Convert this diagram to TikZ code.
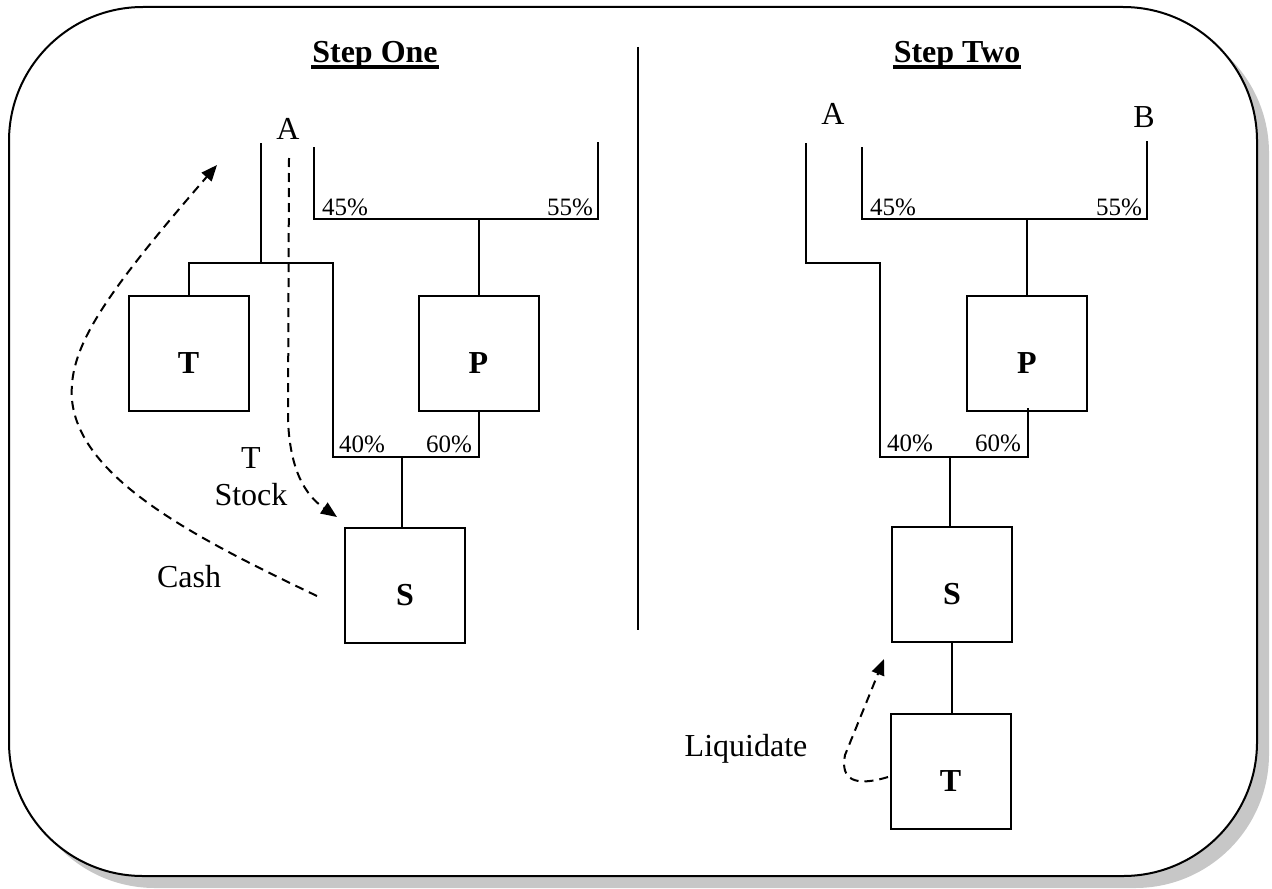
\documentclass[tikz,border=0pt]{standalone}
\usepackage{fontspec}
\setmainfont{Liberation Serif}
\usetikzlibrary{arrows.meta,calc}
\begin{document}
\begin{tikzpicture}[x=0.5pt,y=-0.5pt,line width=1pt,line join=miter,
  box/.style={draw,line width=1pt,minimum width=60pt,minimum height=57.5pt,inner sep=0pt,
    font=\fontsize{16}{19}\selectfont\bfseries,text height=20pt,text depth=0pt},
  lbl/.style={inner sep=0pt,font=\fontsize{16}{19}\selectfont},
  pct/.style={inner sep=0pt,font=\fontsize{12.5}{15}\selectfont},
  ttl/.style={inner sep=0pt,font=\fontsize{16}{19}\selectfont\bfseries},
  flow/.style={line width=1pt,dash pattern=on 4.5pt off 3pt,-{Triangle[length=8pt,width=6.5pt]}},
  ulin/.style={line width=1.6pt}
]
\useasboundingbox (0,0) rectangle (1272,888);
% frame with shadow
\fill[black!22,rounded corners=67pt] (21,19) rectangle (1269,888);
\draw[line width=1pt,fill=white,rounded corners=67pt] (9,7) rectangle (1257,876);

% titles
\node[ttl,anchor=base] (t1) at (375,63) {Step One};
\draw[ulin] ($(t1.base west)+(0,4)$) -- ($(t1.base east)+(0,4)$);
\node[ttl,anchor=base] (t2) at (957,63) {Step Two};
\draw[ulin] ($(t2.base west)+(0,4)$) -- ($(t2.base east)+(0,4)$);

% divider
\coordinate (d1) at (638,47);
\coordinate (d2) at (638,630);
\draw (d1) -- (d2);

% ---------- Step One ----------
\node[lbl,anchor=base] (A1) at (288,139) {A};
\node[box] (T1) at (188.5,353) {T};
\node[box] (P1) at (478.5,353) {P};
\node[box] (S1) at (405,585) {S};

\coordinate (a1) at (261,143);
\coordinate (a2) at (261,263);
\draw (a1) -- (a2);
\coordinate (j1) at (333,263);
\coordinate (j2) at (333,457);
\draw (T1.north) |- (j1) -- (j2) -| (P1.south);
\coordinate (m1) at (402,457);
\draw (m1) -- (m1 |- S1.north);

\coordinate (b1) at (314,147);
\coordinate (h1) at (314,219);
\coordinate (h2) at (598,219);
\coordinate (b2) at (598,142);
\draw (b1) -- (h1) -- (h2) -- (b2);
\draw (P1.north) -- (P1.north |- h1);

\node[pct,anchor=base west] (p45a) at (321,215) {45\%};
\node[pct,anchor=base east] (p55a) at (594,215) {55\%};
\node[pct,anchor=base west] (p40a) at (338,452) {40\%};
\node[pct,anchor=base east] (p60a) at (473,452) {60\%};

\node[lbl,anchor=base] (ts1) at (251,468) {T};
\node[lbl,anchor=base] (ts2) at (251,505) {Stock};
\node[lbl,anchor=base] (cash) at (189,587) {Cash};

\coordinate (c0) at (289,158);
\coordinate (c1) at (288,420);
\coordinate (c2) at (337,517);
\draw[flow] (c0) -- (c1) .. controls (290,470) and (305,495) .. (c2);

\coordinate (k0) at (317,596);
\coordinate (k1) at (72,400);
\coordinate (k2) at (217,165);
\draw[flow] (k0) .. controls (200,540) and (80,480) .. (k1) .. controls (68,350) and (100,300) .. (k2);

% ---------- Step Two ----------
\node[lbl,anchor=base] (A2) at (833,125) {A};
\node[lbl,anchor=base] (B2) at (1144,127) {B};
\node[box] (P2) at (1027,353.5) {P};
\node[box] (S2) at (952,584.5) {S};
\node[box] (T2) at (950.5,771.5) {T};

\coordinate (r1) at (806,143);
\coordinate (r2) at (806,263);
\coordinate (r3) at (880,263);
\coordinate (r4) at (880,457);
\coordinate (r5) at (1028,457);
\coordinate (r6) at (1028,408);
\draw (r1) -- (r2) -- (r3) -- (r4) -- (r5) -- (r6);

\coordinate (e1) at (862,147);
\coordinate (g1) at (862,219);
\coordinate (g2) at (1147,219);
\coordinate (e2) at (1147,141);
\draw (e1) -- (g1) -- (g2) -- (e2);
\draw (P2.north) -- (P2.north |- g1);

\coordinate (m2) at (950,457);
\draw (m2) -- (m2 |- S2.north);
\draw (S2.south) -- (S2.south |- T2.north);

\node[pct,anchor=base west] (p45b) at (869,215) {45\%};
\node[pct,anchor=base east] (p55b) at (1143,215) {55\%};
\node[pct,anchor=base west] (p40b) at (886,451) {40\%};
\node[pct,anchor=base east] (p60b) at (1022,451) {60\%};

\node[lbl,anchor=base] (liq) at (746,756) {Liquidate};
\coordinate (l0) at (888,777);
\coordinate (lm) at (845,755);
\coordinate (l1) at (884,659);
\draw[flow] (l0) .. controls (855,787) and (840,780) .. (lm) -- (l1);
\end{tikzpicture}
\end{document}
